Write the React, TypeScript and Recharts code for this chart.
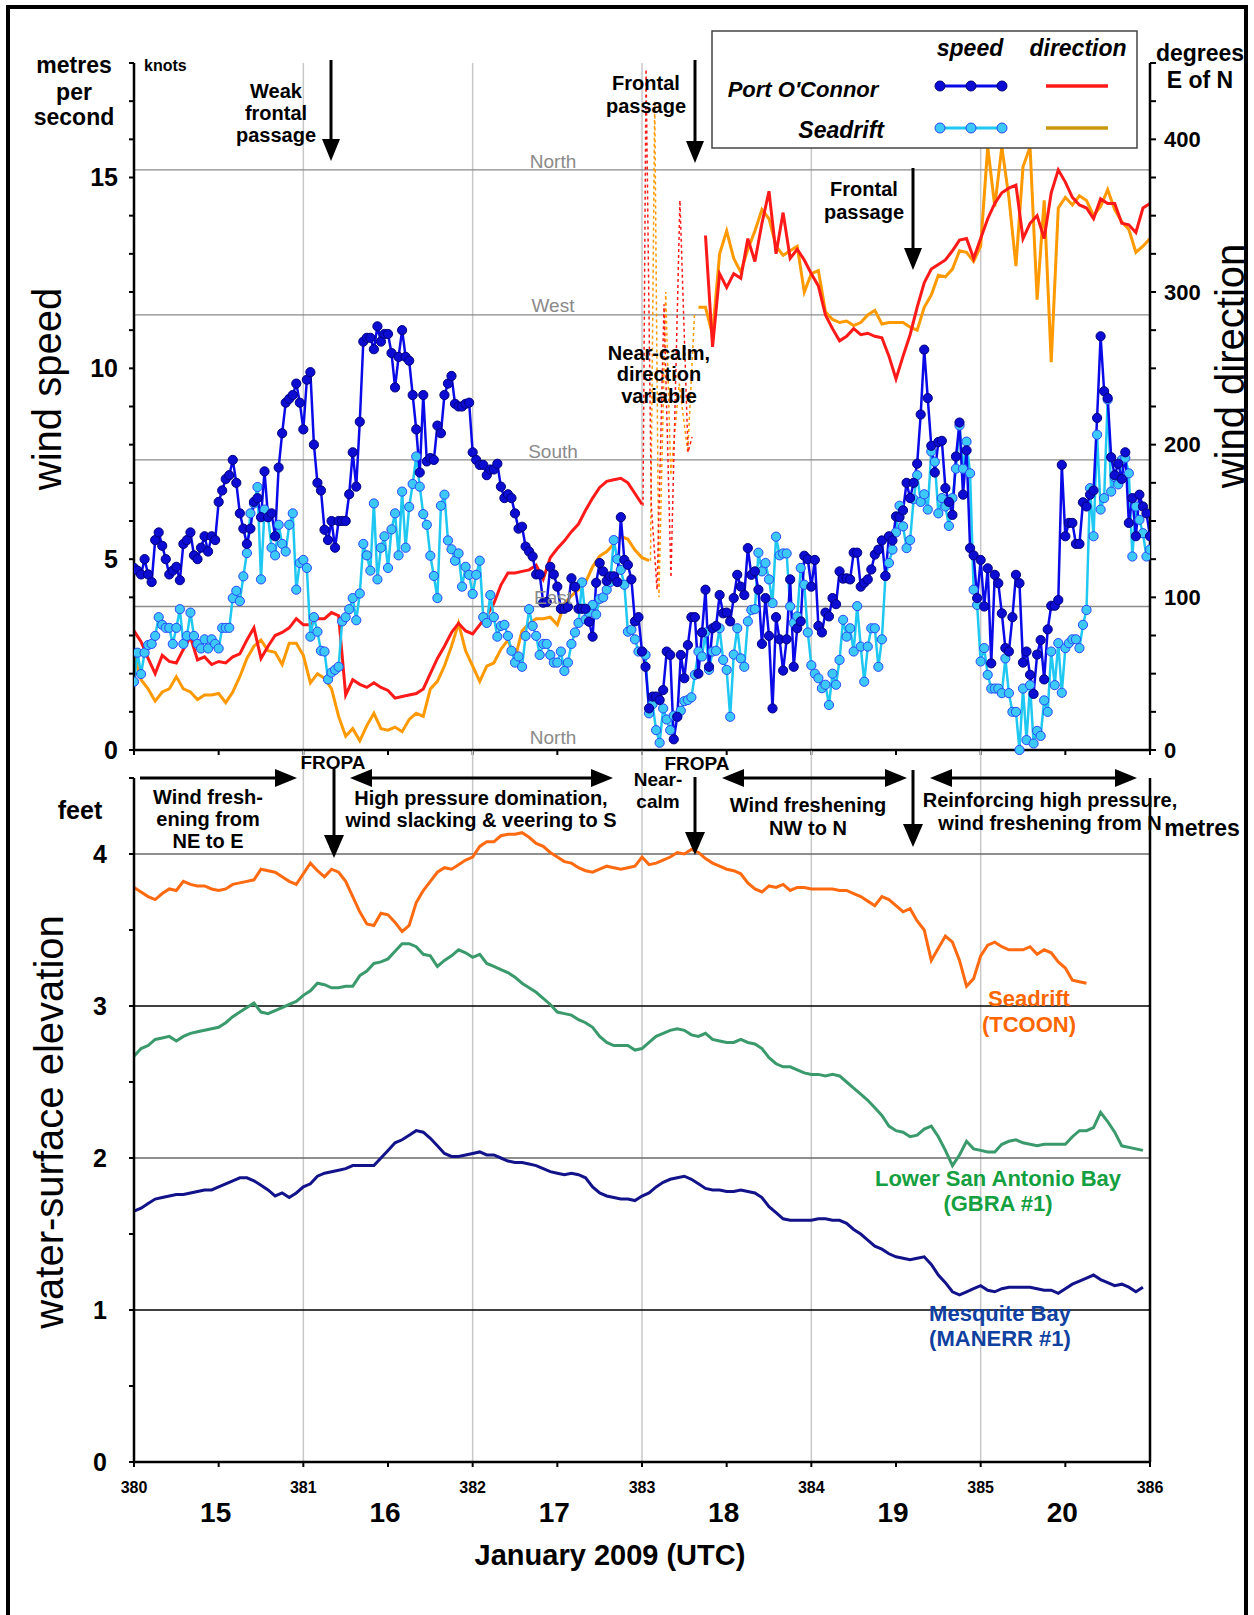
import React from 'react';
import { ComposedChart, Line, XAxis, YAxis, ReferenceLine } from 'recharts';

const FONT = '"Liberation Sans", Arial, Helvetica, sans-serif';

// ---------- axes / categories ----------
const halfDayTicks = [380, 380.5, 381, 381.5, 382, 382.5, 383, 383.5, 384, 384.5, 385, 385.5, 386];
const dayMidTicks = [380.5, 381.5, 382.5, 383.5, 384.5, 385.5];
const dayLabels = ['15', '16', '17', '18', '19', '20'];
const dayGridLines = [381, 382, 383, 384, 385];
const speedTicks = [0, 1, 2, 3, 4, 5, 6, 7, 8, 9, 10, 11, 12, 13, 14, 15, 16, 17, 18];
const knotTicks = [10, 20, 30];
const dirTicks = [0, 25, 50, 75, 100, 125, 150, 175, 200, 225, 250, 275, 300, 325, 350, 375, 400, 425, 450];
const compassDeg = [380, 285, 190, 94];
const feetTicks = [0, 0.5, 1, 1.5, 2, 2.5, 3, 3.5, 4, 4.5];
const feetLines = [1, 2, 3, 4];
const metreTicks = [0.5, 1.0];
const FT_PER_M = 3.28084;

// ---------- wind speed, m/s, every 30 min from day 380 ----------
const pocSpeed = [
  4.77,4.70,4.60,5.00,4.60,4.40,5.50,5.70,5.35,5.00,
  4.60,4.70,4.80,4.45,5.40,5.50,5.70,5.10,5.00,5.30,
  5.60,5.20,5.60,5.50,6.50,6.80,7.10,7.20,7.60,7.00,
  6.20,5.80,5.40,5.80,6.50,6.60,6.10,7.30,6.10,6.20,
  5.60,7.40,8.30,9.10,9.20,9.30,9.60,9.10,8.40,9.70,
  9.90,8.00,7.00,6.80,5.77,5.50,6.00,5.30,6.00,6.00,
  6.00,6.70,7.80,6.90,8.60,10.70,10.80,10.80,10.50,11.10,
  10.70,10.90,10.90,10.40,9.50,10.30,11.00,10.30,10.20,9.30,
  8.40,7.27,9.30,7.56,7.65,7.60,8.50,8.30,9.30,9.60,
  9.80,9.07,9.00,9.00,9.07,9.10,7.80,7.60,7.47,7.47,
  7.20,7.35,7.35,7.50,6.90,6.60,6.70,6.60,6.20,5.80,
  5.85,5.33,5.20,5.07,4.60,4.60,3.86,3.88,4.80,4.60,
  4.28,3.70,3.70,3.75,4.50,4.28,3.70,3.70,3.70,3.36,
  2.97,4.38,4.90,4.68,4.43,4.55,4.55,4.40,6.10,4.98,
  4.85,4.47,3.37,3.48,2.58,2.18,1.09,1.40,1.40,1.31,
  1.57,2.58,2.49,0.28,0.87,2.49,1.88,2.75,3.48,3.48,
  2.00,3.08,4.20,2.18,3.19,3.25,4.06,3.58,3.60,3.37,
  3.98,4.59,4.28,4.06,5.29,4.59,4.68,4.20,2.78,3.98,
  2.99,1.09,3.48,2.90,2.08,2.90,4.47,2.18,3.19,3.37,
  5.09,5.00,4.28,4.98,3.25,3.08,3.60,3.50,3.98,3.82,
  4.68,4.49,4.50,4.47,5.17,5.17,4.28,4.38,4.47,4.73,
  5.12,5.25,5.49,4.56,5.60,5.49,6.12,6.10,6.28,7.00,
  6.60,7.00,7.50,8.79,10.49,9.22,7.97,7.27,8.07,8.10,
  6.86,6.50,6.16,7.69,8.58,6.69,7.85,5.29,5.10,3.98,
  4.98,3.76,4.76,2.27,4.59,4.37,3.58,2.67,2.58,3.48,
  4.59,4.37,2.29,2.58,1.97,1.47,2.50,2.88,1.85,3.16,
  3.78,3.78,3.93,7.47,5.60,5.95,5.95,5.40,5.40,6.49,
  6.38,6.69,6.80,8.70,10.84,9.40,9.22,7.67,7.20,7.50,
  7.10,7.80,5.95,6.60,5.60,6.69,6.38,6.20,5.60,
];
const sdSpeed = [
  1.79,2.55,1.99,2.55,2.75,2.78,2.99,3.48,3.28,3.20,
  3.20,2.78,3.20,3.69,2.78,2.99,3.60,2.99,2.78,2.66,
  2.90,2.66,2.90,2.78,2.66,3.20,3.20,3.20,3.98,4.17,
  3.90,4.55,5.16,6.20,6.46,6.89,4.47,6.30,6.10,5.30,
  5.10,5.90,5.40,5.20,5.90,6.20,4.20,4.90,4.98,4.77,
  2.97,3.48,3.10,2.60,2.58,1.85,2.03,2.10,2.18,3.37,
  3.48,3.69,3.98,3.40,4.10,5.40,5.10,4.70,6.46,4.47,
  5.30,5.60,4.77,5.78,6.20,5.10,6.77,5.30,6.37,6.97,
  7.69,6.90,6.18,5.90,5.09,4.56,3.98,6.40,6.69,5.49,
  5.26,4.96,5.15,4.28,4.80,4.59,4.09,4.59,4.96,3.48,
  3.33,4.06,3.48,2.97,3.25,3.28,2.99,2.60,2.29,2.45,
  2.18,2.99,3.69,3.25,2.99,2.49,2.78,2.78,2.49,2.29,
  2.29,2.58,2.07,2.29,2.78,3.08,3.33,4.39,3.42,3.60,
  3.80,3.55,3.96,4.00,4.20,4.40,5.50,5.00,4.72,4.33,
  3.10,3.15,2.90,2.58,2.58,2.49,0.96,1.20,0.52,0.19,
  1.09,0.80,0.52,0.90,0.87,1.03,1.28,1.31,1.38,1.97,
  2.58,2.45,3.08,2.10,2.58,2.60,3.19,2.36,2.10,0.87,
  2.50,3.19,2.40,2.18,3.37,3.67,3.69,5.17,4.68,4.90,
  4.47,3.85,5.59,5.10,5.15,5.15,3.76,3.33,3.50,4.77,
  4.33,3.08,2.22,2.00,1.88,1.62,1.71,1.18,2.00,1.71,
  2.36,3.41,2.97,3.19,2.58,3.77,2.71,1.79,2.71,3.19,
  3.19,2.18,2.90,4.56,4.90,5.25,5.70,6.40,5.86,5.29,
  5.50,6.57,7.20,6.50,6.70,6.30,7.82,7.55,6.20,6.60,
  6.38,5.87,6.60,7.37,8.50,7.37,8.08,7.25,4.20,3.80,
  2.32,2.67,1.97,1.61,1.61,1.61,1.49,2.40,1.49,1.00,
  1.00,0.00,1.61,0.26,1.70,0.17,0.50,0.37,1.30,1.00,
  2.58,1.70,2.80,1.50,2.67,2.80,2.90,2.90,2.67,3.28,
  3.67,6.86,5.60,8.26,6.30,6.60,9.18,6.77,7.15,6.96,
  7.60,7.65,7.25,5.07,6.38,6.03,5.68,5.07,5.25,
];

// ---------- wind direction, degrees E of N, hourly from day 380 ----------
const pocDir = [
  78,71,60,50,62,58,57,66,74,59,
  61,56,58,57,61,63,72,80,60,68,
  75,77,80,86,82,82,86,86,90,88,
  36,46,43,41,44,41,39,34,35,36,
  37,40,50,60,68,77,83,78,76,82,
  88,96,108,116,116,117,118,121,112,126,
  132,137,143,148,157,165,172,176,177,178,
  175,168,161,
  null,null,null,null,null,null,null,null,
  337,264,312,303,312,309,335,320,345,
  366,325,352,322,328,321,312,304,285,276,
  268,271,276,272,273,271,270,258,243,258,
  272,290,306,315,318,321,327,334,335,322,
  335,348,358,365,368,370,335,345,350,335,
  365,380,372,362,357,355,348,361,358,358,
  345,344,339,355,358,
];
const sdDir = [
  63,46,40,32,38,40,48,40,38,33,
  36,36,37,31,38,48,60,68,72,65,
  64,56,70,70,62,44,50,47,40,22,
  9,14,6,16,24,14,13,15,12,20,
  24,22,40,45,55,68,83,65,55,45,
  55,57,66,72,60,78,83,86,86,87,
  82,96,101,105,110,120,127,130,135,140,
  138,131,126,124,
  null,null,null,null,null,null,
  290,290,272,325,340,322,313,328,340,354,
  348,330,324,327,330,300,312,314,287,282,
  280,281,278,280,285,288,279,280,280,280,
  277,275,290,298,311,310,315,327,326,320,
  330,395,356,395,362,317,382,395,295,360,
  254,355,362,357,363,360,350,356,367,354,
  346,341,326,330,335,
];
// near-calm, direction variable (dashed)
const pocCalmT = [383.006, 383.024, 383.055, 383.089, 383.13, 383.171, 383.224, 383.272, 383.296];
const pocCalmDir = [160, 446, 160, 105, 292, 113, 360, 195, 205];
const sdCalmT = [383.05, 383.075, 383.1, 383.14, 383.17, 383.22, 383.27, 383.31];
const sdCalmDir = [124, 425, 100, 300, 180, 240, 195, 285];

// ---------- water-surface elevation, feet, hourly from day 380 ----------
const wlSeadrift = [
  3.78,3.75,3.72,3.70,3.74,3.77,3.76,3.82,3.80,3.79,
  3.79,3.77,3.76,3.77,3.80,3.81,3.82,3.83,3.90,3.89,
  3.88,3.85,3.82,3.80,3.87,3.94,3.89,3.85,3.90,3.88,
  3.82,3.72,3.62,3.54,3.53,3.61,3.60,3.55,3.49,3.53,
  3.68,3.76,3.82,3.88,3.91,3.90,3.93,3.96,3.98,4.05,
  4.08,4.08,4.12,4.13,4.13,4.14,4.11,4.07,4.05,4.01,
  3.98,3.95,3.94,3.91,3.89,3.88,3.90,3.92,3.91,3.90,
  3.91,3.92,3.98,3.93,3.94,3.96,3.98,4.01,4.00,4.03,
  4.01,3.97,3.94,3.92,3.90,3.89,3.87,3.81,3.77,3.75,
  3.79,3.78,3.80,3.76,3.78,3.78,3.77,3.77,3.77,3.77,
  3.76,3.76,3.74,3.72,3.69,3.66,3.72,3.70,3.66,3.62,
  3.64,3.56,3.50,3.30,3.38,3.46,3.42,3.30,3.13,3.18,
  3.33,3.40,3.42,3.39,3.37,3.37,3.37,3.39,3.34,3.37,
  3.35,3.29,3.25,3.17,3.16,3.15,
];
const wlGbra = [
  2.67,2.72,2.74,2.78,2.79,2.80,2.77,2.80,2.82,2.83,
  2.84,2.85,2.86,2.89,2.93,2.96,2.99,3.02,2.96,2.95,
  2.97,2.99,3.01,3.03,3.07,3.10,3.15,3.14,3.12,3.12,
  3.13,3.13,3.20,3.23,3.28,3.29,3.31,3.36,3.41,3.41,
  3.39,3.34,3.33,3.26,3.30,3.33,3.37,3.35,3.32,3.34,
  3.28,3.26,3.24,3.22,3.19,3.15,3.12,3.09,3.05,3.01,
  2.96,2.95,2.94,2.91,2.89,2.86,2.80,2.76,2.74,2.74,
  2.74,2.71,2.72,2.76,2.80,2.82,2.84,2.85,2.84,2.81,
  2.80,2.82,2.78,2.77,2.76,2.76,2.78,2.76,2.75,2.72,
  2.66,2.62,2.60,2.60,2.58,2.56,2.55,2.55,2.54,2.55,
  2.54,2.50,2.46,2.42,2.38,2.33,2.28,2.21,2.18,2.17,
  2.14,2.15,2.19,2.21,2.14,2.05,1.95,2.02,2.11,2.06,
  2.05,2.04,2.04,2.09,2.11,2.12,2.10,2.09,2.08,2.09,
  2.09,2.09,2.09,2.14,2.18,2.18,2.20,2.30,2.24,2.17,
  2.08,2.07,2.06,2.05,
];
const wlManerr = [
  1.65,1.67,1.70,1.73,1.74,1.75,1.76,1.76,1.77,1.78,
  1.79,1.79,1.81,1.83,1.85,1.87,1.87,1.85,1.82,1.79,
  1.75,1.77,1.74,1.77,1.81,1.83,1.88,1.90,1.91,1.92,
  1.93,1.95,1.95,1.95,1.95,2.00,2.05,2.10,2.12,2.15,
  2.18,2.17,2.13,2.08,2.03,2.01,2.01,2.02,2.03,2.04,
  2.02,2.02,2.00,1.98,1.97,1.97,1.96,1.95,1.93,1.91,
  1.90,1.89,1.90,1.89,1.87,1.81,1.77,1.75,1.74,1.73,
  1.73,1.72,1.75,1.77,1.81,1.84,1.86,1.87,1.88,1.86,
  1.83,1.80,1.79,1.79,1.78,1.78,1.79,1.78,1.77,1.74,
  1.68,1.64,1.60,1.59,1.59,1.59,1.59,1.60,1.60,1.59,
  1.59,1.57,1.53,1.50,1.46,1.42,1.40,1.37,1.35,1.34,
  1.33,1.34,1.35,1.30,1.23,1.18,1.12,1.10,1.12,1.14,
  1.16,1.13,1.12,1.14,1.15,1.15,1.15,1.15,1.14,1.13,
  1.13,1.11,1.14,1.17,1.19,1.21,1.23,1.20,1.18,1.16,
  1.17,1.15,1.12,1.15,
];

// ---------- build series ----------
const T0 = 380;
const every = (arr: (number | null)[], perDay: number) => arr.map((v, i) => ({ t: T0 + i / perDay, v }));
const pairs = (ts: number[], vs: number[]) => ts.map((t, i) => ({ t, v: vs[i] }));

const pocSpeedData = every(pocSpeed, 48);
const sdSpeedData = every(sdSpeed, 48);
const pocDirData = every(pocDir, 24);
const sdDirData = every(sdDir, 24);
const pocCalmData = pairs(pocCalmT, pocCalmDir);
const sdCalmData = pairs(sdCalmT, sdCalmDir);
const seadriftData = every(wlSeadrift, 24);
const gbraData = every(wlGbra, 24);
const manerrData = every(wlManerr, 24);

const tickFont = { fill: '#000', fontFamily: FONT, fontWeight: 700 };
const axisLine = { stroke: '#000', strokeWidth: 2.5 };
const tickLine = { stroke: '#000', strokeWidth: 2 };

// plot geometry shared by both panels (used for the day-name labels)
const PLOT_LEFT = 134;
const PLOT_RIGHT = 1150;
const dayX = (t: number) => PLOT_LEFT + ((t - 380) / 6) * (PLOT_RIGHT - PLOT_LEFT);

// ---------- overlay helpers ----------
const Txt = ({ x, y, children, size = 20, weight = 700, anchor = 'middle', fill = '#000', italic = false, rot = false }: any) => (
  <text x={x} y={y} fontSize={size} fontWeight={weight} textAnchor={anchor} dominantBaseline="central"
    fill={fill} fontFamily={FONT} fontStyle={italic ? 'italic' : 'normal'}
    transform={rot ? `rotate(-90 ${x} ${y})` : undefined}>{children}</text>
);
const DownArrow = ({ x, y1, y2, head = 22, w = 18 }: any) => (
  <g>
    <line x1={x} y1={y1} x2={x} y2={y2 - head + 2} stroke="#000" strokeWidth={3} />
    <polygon points={`${x - w / 2},${y2 - head} ${x + w / 2},${y2 - head} ${x},${y2}`} fill="#000" />
  </g>
);
const HArrow = ({ x1, x2, y, both = false, head = 22, w = 18 }: any) => (
  <g>
    <line x1={both ? x1 + head - 2 : x1} y1={y} x2={x2 - head + 2} y2={y} stroke="#000" strokeWidth={3} />
    <polygon points={`${x2 - head},${y - w / 2} ${x2 - head},${y + w / 2} ${x2},${y}`} fill="#000" />
    {both && <polygon points={`${x1 + head},${y - w / 2} ${x1 + head},${y + w / 2} ${x1},${y}`} fill="#000" />}
  </g>
);

function UpperChart() {
  return (
    <ComposedChart width={1254} height={800} margin={{ top: 63, right: 44, bottom: 30, left: 74 }}>
      <XAxis dataKey="t" type="number" domain={[380, 386]} allowDataOverflow ticks={halfDayTicks} interval={0}
        tickFormatter={() => ''} tickSize={5} height={20} axisLine={axisLine} tickLine={tickLine} />
      <YAxis yAxisId="ms" orientation="left" domain={[0, 18]} ticks={speedTicks} interval={0} width={60}
        tickSize={5} tickMargin={11} tickFormatter={(v: number) => (v % 5 === 0 ? String(v) : '')}
        tick={{ ...tickFont, fontSize: 25 }} axisLine={axisLine} tickLine={tickLine} />
      <YAxis yAxisId="kt" orientation="left" mirror domain={[0, 18 / 0.514444]} ticks={knotTicks} interval={0}
        tickSize={5} tickMargin={5} axisLine={false} tickLine={tickLine} tick={{ ...tickFont, fontSize: 15 }} />
      <YAxis yAxisId="deg" orientation="right" domain={[0, 450]} ticks={dirTicks} interval={0} width={60}
        tickSize={6} tickMargin={8} tickFormatter={(v: number) => (v % 100 === 0 ? String(v) : '')}
        tick={{ ...tickFont, fontSize: 22 }} axisLine={axisLine} tickLine={tickLine} />
      {dayGridLines.map((d) => (
        <ReferenceLine key={'v' + d} x={d} yAxisId="ms" stroke="#c8c8c8" strokeWidth={1.5} />
      ))}
      {compassDeg.map((d) => (
        <ReferenceLine key={'c' + d} y={d} yAxisId="deg" stroke="#8a8a8a" strokeWidth={1.3} />
      ))}
      <Line yAxisId="deg" data={sdCalmData} dataKey="v" stroke="#ff9900" strokeWidth={1.5} strokeDasharray="3 3"
        dot={false} activeDot={false} isAnimationActive={false} />
      <Line yAxisId="deg" data={pocCalmData} dataKey="v" stroke="#ff1a1a" strokeWidth={1.5} strokeDasharray="3 3"
        dot={false} activeDot={false} isAnimationActive={false} />
      <Line yAxisId="deg" data={sdDirData} dataKey="v" stroke="#ff9900" strokeWidth={3}
        dot={false} activeDot={false} isAnimationActive={false} />
      <Line yAxisId="deg" data={pocDirData} dataKey="v" stroke="#ff1a1a" strokeWidth={3}
        dot={false} activeDot={false} isAnimationActive={false} />
      <Line yAxisId="ms" data={sdSpeedData} dataKey="v" stroke="#1ec8f2" strokeWidth={2.5}
        dot={{ r: 4.6, fill: '#3cc8f8', stroke: '#2a48ff', strokeWidth: 1 }} activeDot={false} isAnimationActive={false} />
      <Line yAxisId="ms" data={pocSpeedData} dataKey="v" stroke="#0a0ae8" strokeWidth={2.5}
        dot={{ r: 4.6, fill: '#0c0cd2', stroke: '#000080', strokeWidth: 1 }} activeDot={false} isAnimationActive={false} />
    </ComposedChart>
  );
}

function LowerChart() {
  return (
    <ComposedChart width={1254} height={875} margin={{ top: 38, right: 44, bottom: 123, left: 74 }}>
      <XAxis dataKey="t" type="number" domain={[380, 386]} allowDataOverflow ticks={halfDayTicks} interval={0}
        tickFormatter={(v: number) => (Number.isInteger(v) ? String(v) : '')} tickSize={5} tickMargin={15} height={30}
        axisLine={axisLine} tickLine={tickLine} tick={{ ...tickFont, fontSize: 16 }} />
      <YAxis yAxisId="ft" orientation="left" domain={[0, 4.5]} ticks={feetTicks} interval={0} width={60}
        tickSize={5} tickMargin={22} tickFormatter={(v: number) => (Number.isInteger(v) ? String(v) : '')}
        tick={{ ...tickFont, fontSize: 25 }} axisLine={axisLine} tickLine={tickLine} />
      <YAxis yAxisId="mL" orientation="left" mirror domain={[0, 4.5 / FT_PER_M]} ticks={metreTicks} interval={0}
        tickSize={12} tick={false} axisLine={false} tickLine={tickLine} />
      <YAxis yAxisId="m" orientation="right" domain={[0, 4.5 / FT_PER_M]} ticks={metreTicks} interval={0} width={60}
        tickSize={13} tickMargin={12} tickFormatter={(v: number) => v.toFixed(1)}
        tick={{ ...tickFont, fontSize: 22 }} axisLine={axisLine} tickLine={tickLine} />
      {dayGridLines.map((d) => (
        <ReferenceLine key={'v' + d} yAxisId="ft" ifOverflow="visible" stroke="#c8c8c8" strokeWidth={1.5}
          segment={[{ x: d, y: 0 }, { x: d, y: 4.68 }]} />
      ))}
      {feetLines.map((f) => (
        <ReferenceLine key={'h' + f} y={f} yAxisId="ft" stroke={f % 2 === 1 ? '#000' : '#6a6a6a'} strokeWidth={1.3} />
      ))}
      <Line yAxisId="ft" data={manerrData} dataKey="v" stroke="#12128a" strokeWidth={3}
        dot={false} activeDot={false} isAnimationActive={false} />
      <Line yAxisId="ft" data={gbraData} dataKey="v" stroke="#3a9a6c" strokeWidth={3}
        dot={false} activeDot={false} isAnimationActive={false} />
      <Line yAxisId="ft" data={seadriftData} dataKey="v" stroke="#ff6a10" strokeWidth={3}
        dot={false} activeDot={false} isAnimationActive={false} />
    </ComposedChart>
  );
}

function Overlay() {
  const gray = '#8a8a8a';
  return (
    <svg width={1254} height={1615} style={{ position: 'absolute', left: 0, top: 0, pointerEvents: 'none' }}>
      {/* upper panel labels */}
      <Txt x={74} y={65} size={23}>metres</Txt>
      <Txt x={74} y={92} size={23}>per</Txt>
      <Txt x={74} y={117} size={23}>second</Txt>
      <Txt x={144} y={65} size={16} anchor="start">knots</Txt>
      <Txt x={47} y={389} size={40} weight={400} rot>wind speed</Txt>
      <Txt x={1230} y={366} size={40} weight={400} rot>wind direction</Txt>
      <Txt x={1200} y={53} size={23}>degrees</Txt>
      <Txt x={1200} y={80} size={23}>E of N</Txt>

      <Txt x={276} y={91}>Weak</Txt>
      <Txt x={276} y={113}>frontal</Txt>
      <Txt x={276} y={135}>passage</Txt>
      <DownArrow x={331} y1={60} y2={161} />
      <Txt x={646} y={83}>Frontal</Txt>
      <Txt x={646} y={106}>passage</Txt>
      <DownArrow x={695} y1={60} y2={163} />
      <Txt x={864} y={189}>Frontal</Txt>
      <Txt x={864} y={212}>passage</Txt>
      <DownArrow x={913} y1={168} y2={270} />
      <Txt x={659} y={353}>Near-calm,</Txt>
      <Txt x={659} y={374}>direction</Txt>
      <Txt x={659} y={396}>variable</Txt>

      <Txt x={553} y={161} size={19} weight={400} fill={gray}>North</Txt>
      <Txt x={553} y={305} size={19} weight={400} fill={gray}>West</Txt>
      <Txt x={553} y={451} size={19} weight={400} fill={gray}>South</Txt>
      <Txt x={553} y={597} size={19} weight={400} fill={gray}>East</Txt>
      <Txt x={553} y={737} size={19} weight={400} fill={gray}>North</Txt>

      {/* legend */}
      <rect x={712} y={31} width={425} height={117} fill="#fff" stroke="#444" strokeWidth={1.5} />
      <Txt x={970} y={48} size={23} italic>speed</Txt>
      <Txt x={1078} y={48} size={23} italic>direction</Txt>
      <Txt x={803} y={89} size={22} italic>Port O'Connor</Txt>
      <Txt x={884} y={130} size={23} italic anchor="end">Seadrift</Txt>
      <line x1={940} y1={86} x2={1002} y2={86} stroke="#0a0ae8" strokeWidth={3} />
      {[940, 971, 1002].map((cx) => <circle key={'a' + cx} cx={cx} cy={86} r={5} fill="#0c0cd2" stroke="#000080" />)}
      <line x1={1046} y1={86} x2={1108} y2={86} stroke="#ff1a1a" strokeWidth={3.5} />
      <line x1={940} y1={128} x2={1002} y2={128} stroke="#1ec8f2" strokeWidth={3} />
      {[940, 971, 1002].map((cx) => <circle key={'b' + cx} cx={cx} cy={128} r={5} fill="#3cc8f8" stroke="#2a48ff" />)}
      <line x1={1046} y1={128} x2={1108} y2={128} stroke="#c9980c" strokeWidth={3.5} />

      {/* between panels */}
      <Txt x={333} y={762} size={19}>FROPA</Txt>
      <Txt x={697} y={763} size={19}>FROPA</Txt>
      <HArrow x1={140} x2={297} y={778} />
      <HArrow x1={350} x2={613} y={778} both />
      <HArrow x1={722} x2={907} y={778} both />
      <HArrow x1={930} x2={1137} y={778} both />
      <Txt x={658} y={779} size={19}>Near-</Txt>
      <Txt x={658} y={801} size={19}>calm</Txt>
      <DownArrow x={334} y1={768} y2={858} w={20} head={23} />
      <DownArrow x={695} y1={777} y2={855} w={20} head={23} />
      <DownArrow x={913} y1={770} y2={847} w={20} head={23} />
      <Txt x={208} y={797}>Wind fresh-</Txt>
      <Txt x={208} y={819}>ening from</Txt>
      <Txt x={208} y={841}>NE to E</Txt>
      <Txt x={481} y={798}>High pressure domination,</Txt>
      <Txt x={481} y={820}>wind slacking &amp; veering to S</Txt>
      <Txt x={808} y={805}>Wind freshening</Txt>
      <Txt x={808} y={828}>NW to N</Txt>
      <Txt x={1050} y={800}>Reinforcing high pressure,</Txt>
      <Txt x={1050} y={823}>wind freshening from N</Txt>

      {/* lower panel labels */}
      <Txt x={80} y={810} size={25}>feet</Txt>
      <Txt x={1202} y={828} size={23}>metres</Txt>
      <Txt x={49} y={1122} size={40} weight={400} rot>water-surface elevation</Txt>
      <Txt x={1029} y={998} size={22} fill="#ff6600">Seadrift</Txt>
      <Txt x={1029} y={1024} size={22} fill="#ff6600">(TCOON)</Txt>
      <Txt x={998} y={1178} size={22} fill="#14a040">Lower San Antonio Bay</Txt>
      <Txt x={998} y={1203} size={22} fill="#14a040">(GBRA #1)</Txt>
      <Txt x={1000} y={1313} size={22} fill="#1040a0">Mesquite Bay</Txt>
      <Txt x={1000} y={1338} size={22} fill="#1040a0">(MANERR #1)</Txt>

      {/* day-of-month names under the day-number axis */}
      {dayMidTicks.map((t, i) => (
        <Txt key={'d' + t} x={dayX(t) - 3} y={1512} size={28}>{dayLabels[i]}</Txt>
      ))}
      <Txt x={610} y={1555} size={29}>January 2009 (UTC)</Txt>
    </svg>
  );
}

export default function App() {
  return (
    <div style={{ position: 'absolute', left: 0, top: 0, width: 1254, height: 1615, overflow: 'hidden', background: '#fff', fontFamily: FONT }}>
      <div style={{ position: 'absolute', left: 6, top: 5, width: 1234, height: 1700, border: '4px solid #000' }} />
      <div style={{ position: 'absolute', left: 0, top: 0 }}>
        <UpperChart />
      </div>
      <div style={{ position: 'absolute', left: 0, top: 740 }}>
        <LowerChart />
      </div>
      <Overlay />
    </div>
  );
}
